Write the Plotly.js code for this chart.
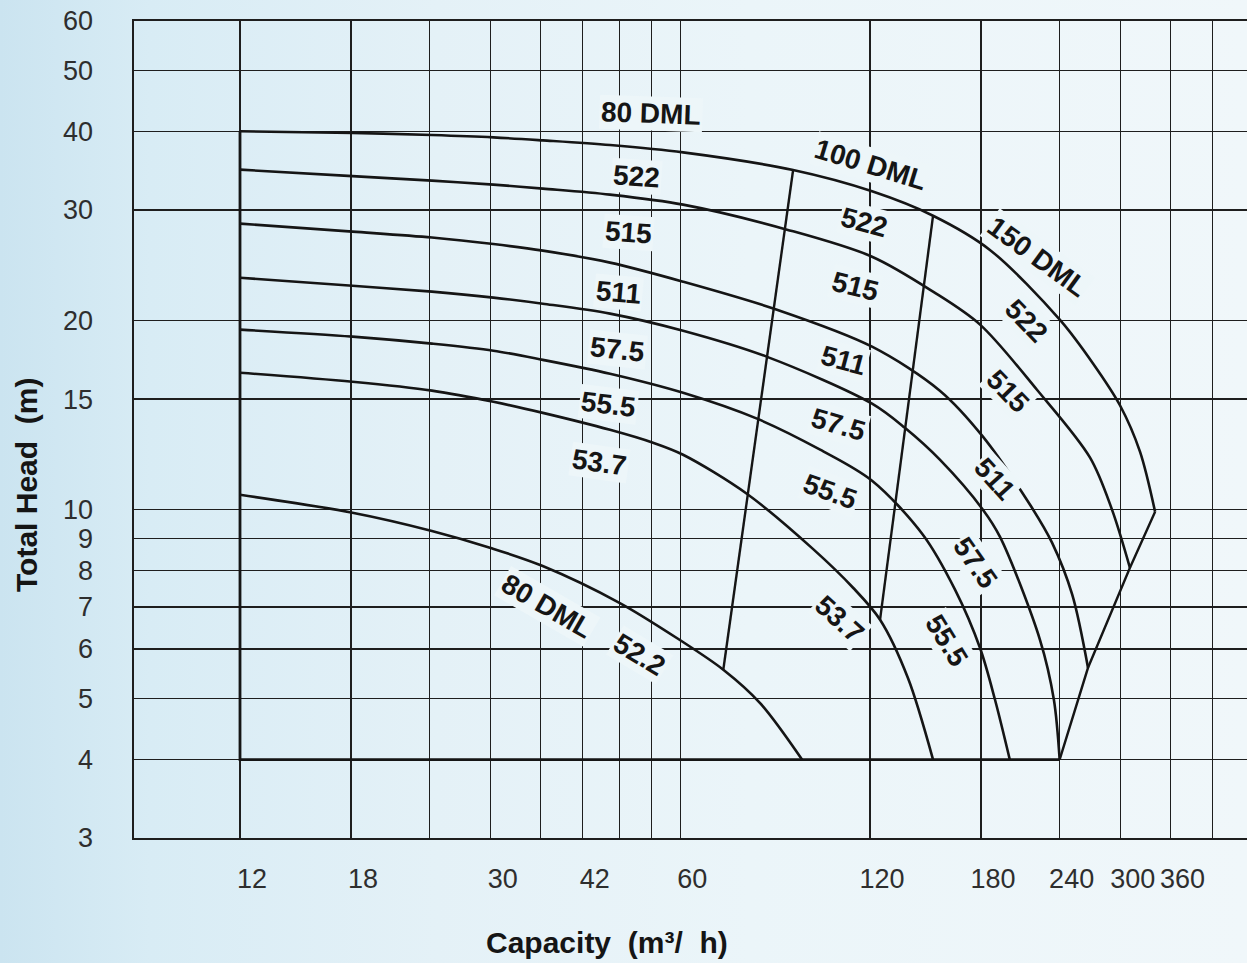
<!DOCTYPE html>
<html>
<head>
<meta charset="utf-8">
<script src="https://cdn.plot.ly/plotly-3.0.1.min.js"></script>
<style>
  html, body { margin: 0; padding: 0; }
  body {
    width: 1247px; height: 963px; overflow: hidden;
    background: linear-gradient(90deg, #cbe4f0 0%, #d8ecf5 12%, #e4f1f7 35%, #ebf5f9 60%, #f0f7fa 100%);
  }
  #chart { width: 1247px; height: 963px; }
</style>
</head>
<body>
<div id="chart"></div>
<script>
// ---- axis ticks ----
const capacityTicks    = [12, 18, 24, 30, 36, 42, 48, 54, 60, 120, 180, 240, 300, 360, 420];
const capacityTickText = ['12', '18', '', '30', '', '42', '', '', '60', '120', '180', '240', '300', '360', ''];
const headTicks        = [3, 4, 5, 6, 7, 8, 9, 10, 15, 20, 30, 40, 50, 60];

// ---- impeller curves: capacity (m3/h) and total head (m) ----
const q522 = [12, 18.1, 24.2, 30.3, 36.3, 46.4, 60.6, 90.6, 120.9, 151.1, 186, 240.3, 271.1, 299.3, 321.9, 340.2];
const h522 = [40.04, 39.8, 39.5, 39.16, 38.73, 38.07, 37.06, 34.74, 32.13, 29.38, 25.92, 20.05, 17.09, 14.65, 12.37, 9.92];

const q515 = [12, 18.1, 24.2, 30.3, 36.3, 46.4, 60.6, 88.6, 120.9, 151.1, 179.4, 220.9, 268.2, 290.6, 310.3];
const h515 = [34.79, 33.97, 33.42, 32.93, 32.45, 31.74, 30.6, 27.92, 25.28, 22.24, 19.71, 15.52, 12.1, 10.0, 8.08];

const q511 = [12, 18.1, 24.2, 30.3, 36.3, 46.4, 60.6, 85.4, 120.9, 154.9, 181.3, 215.4, 233.4, 251.3, 266.2];
const h511 = [28.54, 27.72, 27.12, 26.48, 25.85, 24.74, 23.07, 20.82, 18.18, 15.47, 13.07, 10.18, 8.86, 7.32, 5.6];

const q575 = [12, 18.1, 24.2, 30.3, 36.3, 46.4, 60.6, 82.4, 120.9, 136.3, 154.9, 181.3, 193.0, 223.4, 235.0, 240];
const h575 = [23.41, 22.73, 22.24, 21.76, 21.28, 20.52, 19.27, 17.51, 14.75, 13.5, 12.01, 10.0, 9.05, 6.2, 4.98, 4.0];

const q555 = [12, 18.1, 24.2, 30.3, 36.3, 46.4, 60.6, 79.4, 100.0, 120.9, 145.6, 163.8, 179.4, 189.5, 200];
const h555 = [19.35, 18.86, 18.38, 17.91, 17.32, 16.46, 15.35, 13.96, 12.46, 11.12, 9.12, 7.45, 6.02, 4.98, 4.0];

const q537 = [12, 18.1, 24.2, 30.3, 36.3, 46.4, 54.3, 60.6, 76.5, 97.4, 112.8, 124.5, 137.9, 151.1];
const h537 = [16.52, 15.98, 15.47, 14.85, 14.26, 13.4, 12.78, 12.23, 10.6, 8.66, 7.51, 6.68, 5.39, 4.0];

const q522s = [12, 18.1, 24.2, 30.0, 36.2, 48.1, 59.9, 70.2, 80.3, 93.6];
const h522s = [10.56, 9.89, 9.25, 8.69, 8.14, 7.1, 6.2, 5.56, 4.92, 4.0];

// ---- pump-size boundaries and envelope ----
const b1q = [90.6, 70.2];   const b1h = [34.74, 5.56];
const b2q = [151.1, 124.5]; const b2h = [29.38, 6.68];
const b3q = [340.2, 310.3, 266.2, 240]; const b3h = [9.92, 8.08, 5.6, 4.0];
const envQ = [12, 12, 240]; const envH = [40.04, 4, 4];

// ---- curve labels (capacity, head, text) ----
const labelText = ['80 DML', '522', '515', '511', '57.5', '55.5', '53.7',
                   '100 DML', '522', '515', '511', '57.5', '55.5', '53.7',
                   '150 DML', '522', '515', '511', '57.5', '55.5',
                   '80 DML', '52.2'];
const labelQ = [53.9, 51.2, 49.6, 47.9, 47.6, 46.2, 44.6,
                120.0, 117.8, 114.0, 109.1, 106.8, 103.7, 107.5,
                221, 212.3, 198.7, 188.8, 176.2, 159.0,
                36.9, 51.6];
const labelH = [42.7, 33.9, 27.6, 22.2, 18.0, 14.7, 11.9,
                35.4, 28.7, 22.7, 17.3, 13.65, 10.7, 6.68,
                25.3, 20.0, 15.4, 11.2, 8.23, 6.2,
                7.0, 5.87];
const labelAngle = [2, 4, 4, 5, 6, 7, 8,
                    17, 15, 14, 15, 16, 20, 42,
                    36, 46, 46, 48, 55, 58,
                    30, 31];

const FONT = '"Liberation Sans", Arial, Helvetica, sans-serif';
const INK = '#151515';

function curve(x, y, w) {
  return { x: x, y: y, mode: 'lines', hoverinfo: 'skip', showlegend: false,
           line: { color: INK, width: w || 2.6, shape: 'spline', smoothing: 0.9 } };
}
function straight(x, y, w) {
  return { x: x, y: y, mode: 'lines', hoverinfo: 'skip', showlegend: false,
           line: { color: INK, width: w || 2.4 } };
}

const traces = [
  straight(envQ, envH, 2.8),
  curve(q522, h522), curve(q515, h515), curve(q511, h511), curve(q575, h575),
  curve(q555, h555), curve(q537, h537), curve(q522s, h522s),
  straight(b1q, b1h), straight(b2q, b2h), straight(b3q, b3h)
];

const annotations = labelText.map((t, i) => ({
  x: Math.log10(labelQ[i]), y: Math.log10(labelH[i]), xref: 'x', yref: 'y',
  text: '<b>' + t + '</b>', showarrow: false, textangle: labelAngle[i],
  font: { family: FONT, size: 28, color: INK },
  bgcolor: '#edf6f9', borderpad: 1
}));

annotations.push({
  xref: 'paper', yref: 'paper', x: (607 - 134) / 1113, y: -(943 - 838) / 817,
  text: '<b>Capacity  (m³/  h)</b>', showarrow: false,
  xanchor: 'center', yanchor: 'middle', font: { family: FONT, size: 30, color: INK }
});
annotations.push({
  xref: 'paper', yref: 'paper', x: -(134 - 27) / 1113, y: (838 - 485) / 817,
  text: '<b>Total Head  (m)</b>', showarrow: false, textangle: -90,
  xanchor: 'center', yanchor: 'middle', font: { family: FONT, size: 30, color: INK }
});

const layout = {
  width: 1247, height: 963,
  margin: { l: 134, r: 0, t: 21, b: 125, pad: 0 },
  paper_bgcolor: 'rgba(0,0,0,0)', plot_bgcolor: 'rgba(0,0,0,0)',
  showlegend: false,
  xaxis: {
    type: 'log', range: [0.91093, 2.67759],
    tickmode: 'array', tickvals: capacityTicks, ticktext: capacityTickText,
    showgrid: true, gridcolor: '#1e1e1e', gridwidth: 1.3,
    showline: true, linecolor: '#1e1e1e', linewidth: 1.6, mirror: true,
    zeroline: false, ticks: '',
    tickfont: { family: FONT, size: 27, color: '#2e2e2e' },
    ticklabelshift: 12, ticklabelstandoff: 16
  },
  yaxis: {
    type: 'log', range: [Math.log10(3), Math.log10(60)],
    tickmode: 'array', tickvals: headTicks, ticktext: headTicks.map(String),
    showgrid: true, gridcolor: '#1e1e1e', gridwidth: 1.3,
    showline: true, linecolor: '#1e1e1e', linewidth: 1.6, mirror: false,
    zeroline: false, ticks: '',
    tickfont: { family: FONT, size: 27, color: '#2e2e2e' },
    ticklabelstandoff: 34
  },
  annotations: annotations
};

Plotly.newPlot('chart', traces, layout, { displayModeBar: false, staticPlot: true });
</script>
</body>
</html>
